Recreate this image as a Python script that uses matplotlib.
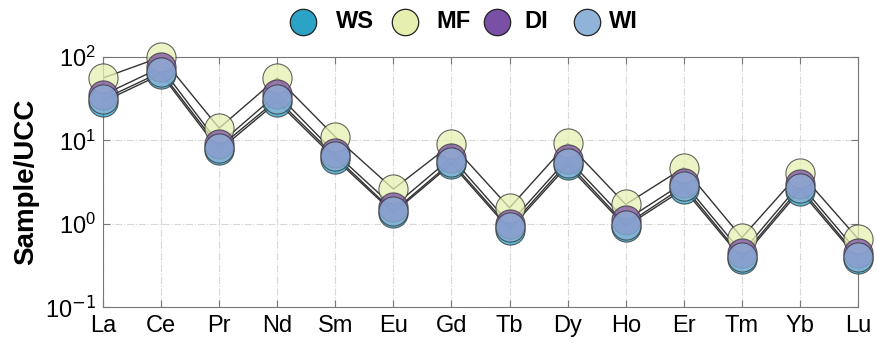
import matplotlib
matplotlib.use("Agg")
import matplotlib.pyplot as plt
from matplotlib.lines import Line2D
import numpy as np

plt.rcParams['font.family'] = ['Liberation Sans', 'DejaVu Sans']
plt.rcParams['mathtext.fontset'] = 'custom'
plt.rcParams['mathtext.rm'] = 'Liberation Sans'
plt.rcParams['mathtext.it'] = 'Liberation Sans'
plt.rcParams['axes.unicode_minus'] = False

elements = ["La", "Ce", "Pr", "Nd", "Sm", "Eu", "Gd", "Tb", "Dy", "Ho", "Er", "Tm", "Yb", "Lu"]
series_names = ["WS", "MF", "DI", "WI"]
WS = [29, 62, 7.6, 29, 6.0, 1.35, 5.2, 0.85, 5.0, 0.92, 2.6, 0.38, 2.5, 0.38]
MF = [56, 100, 14, 56, 11, 2.6, 9.0, 1.55, 9.2, 1.7, 4.7, 0.68, 4.1, 0.66]
DI = [35, 75, 9.0, 36, 7.0, 1.6, 6.2, 1.0, 6.0, 1.1, 3.1, 0.45, 3.0, 0.45]
WI = [31, 66, 8.2, 31, 6.4, 1.4, 5.5, 0.9, 5.4, 0.97, 2.8, 0.40, 2.7, 0.40]
ytick_vals = [0.1, 1, 10, 100]
ytick_labels = ["10$^{\\mathsf{-1}}$", "10$^{0}$", "10$^{1}$", "10$^{2}$"]
colors = ["#2aa3c7", "#e6efb0", "#7a4fa6", "#8fb3d9"]

W, H = 877, 344
fig = plt.figure(figsize=(W / 100, H / 100), dpi=100)
ax = fig.add_axes([103 / W, 1 - 307 / H, (858 - 103) / W, (307 - 57) / H])

x = np.arange(len(elements))
for vals in [WS, MF, DI, WI]:
    ax.plot(x, vals, color="#333333", lw=1.0, zorder=2)
for name, vals, c in zip(series_names, [WS, MF, DI, WI], colors):
    ax.plot(x, vals, linestyle="none", marker="o", markersize=21,
            markerfacecolor=c, markeredgecolor="#333333", markeredgewidth=0.8,
            alpha=0.75, zorder=3, label=name, clip_on=False)

ax.set_yscale("log")
ax.set_ylim(0.1, 100)
ax.set_xlim(0, len(elements) - 1)
ax.set_xticks(x)
ax.set_xticklabels(elements)
ax.set_yticks(ytick_vals)
ax.set_yticklabels(ytick_labels)
ax.minorticks_off()
ax.tick_params(direction="in", top=True, right=True, length=5, color="#777777",
               labelsize=17, pad=6)
ax.tick_params(axis="y", labelsize=17, pad=5)
for s in ax.spines.values():
    s.set_color("#777777")
ax.grid(True, which="major", linestyle="-.", color="#d8d8d8", lw=0.8)
ax.set_axisbelow(True)
ax.set_ylabel("Sample/UCC", fontsize=20, fontweight="bold", labelpad=4)

# legend, laid out by hand across the top
marker_x = [303, 405, 497, 587]
text_x = [336, 436, 524, 609]
ly = 1 - 22 / H
for mx, tx, name, c in zip(marker_x, text_x, series_names, colors):
    fig.add_artist(Line2D([mx / W], [ly], transform=fig.transFigure, linestyle="none",
                          marker="o", markersize=19, markerfacecolor=c,
                          markeredgecolor="#222222", markeredgewidth=0.9))
    fig.text(tx / W, ly, name, ha="left", va="center", fontsize=17, fontweight="bold")

fig.savefig("out.png", dpi=100)
